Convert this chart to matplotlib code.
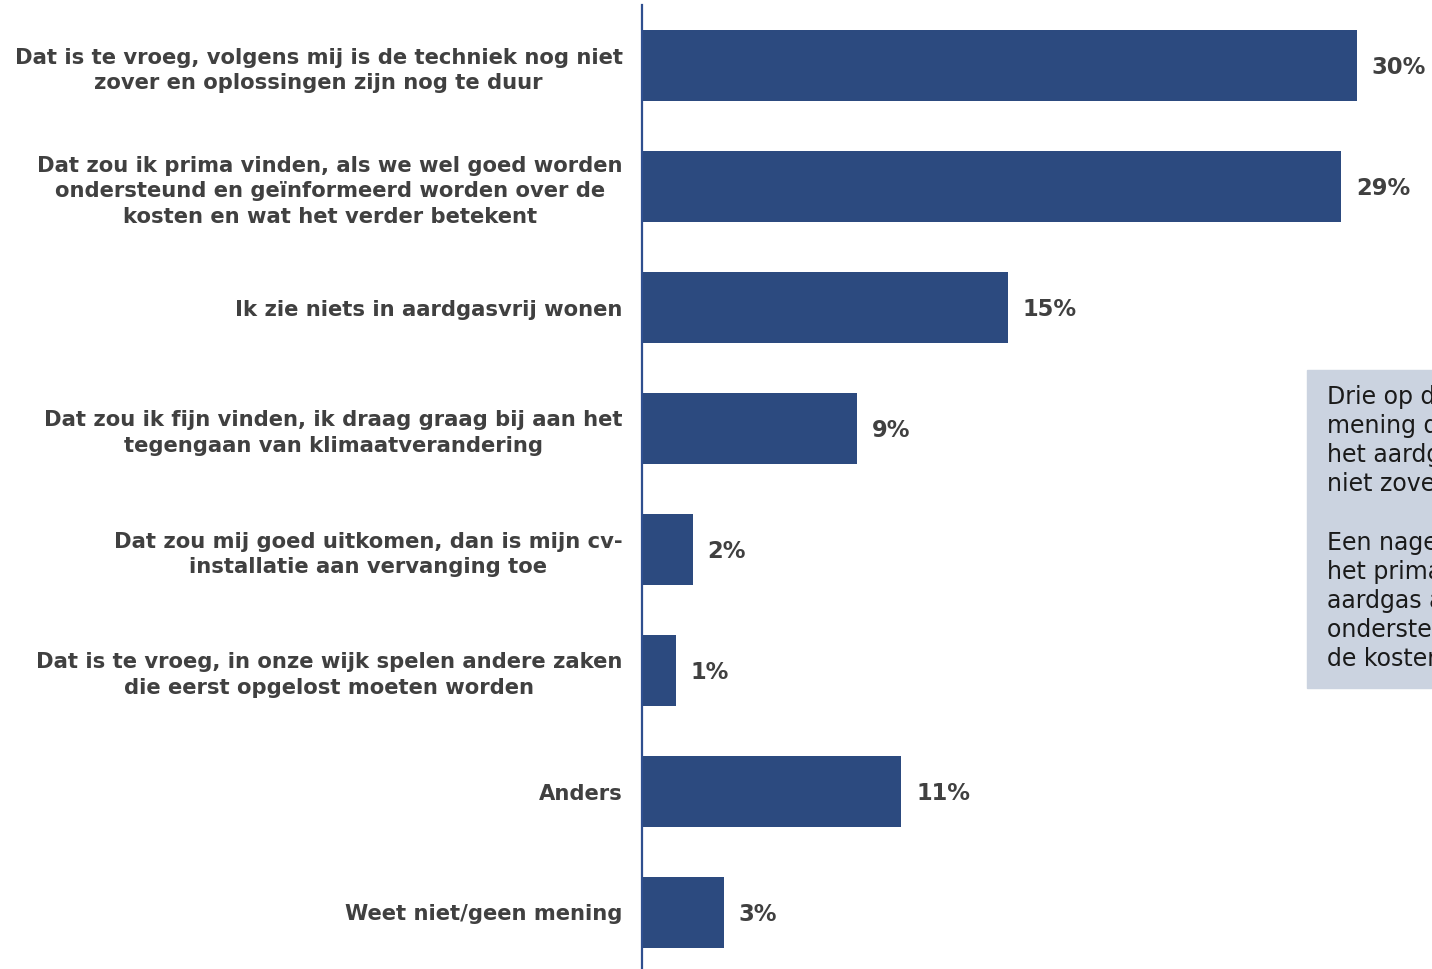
import matplotlib.pyplot as plt
from matplotlib.patches import Rectangle

# ------------------------------------
categories = [
    "Dat is te vroeg, volgens mij is de techniek nog niet\nzover en oplossingen zijn nog te duur",
    "Dat zou ik prima vinden, als we wel goed worden\nondersteund en geïnformeerd worden over de\nkosten en wat het verder betekent",
    "Ik zie niets in aardgasvrij wonen",
    "Dat zou ik fijn vinden, ik draag graag bij aan het\ntegengaan van klimaatverandering",
    "Dat zou mij goed uitkomen, dan is mijn cv-\ninstallatie aan vervanging toe",
    "Dat is te vroeg, in onze wijk spelen andere zaken\ndie eerst opgelost moeten worden",
    "Anders",
    "Weet niet/geen mening",
]
values = [29.9, 29.25, 15.3, 9.0, 2.13, 1.42, 10.85, 3.43]
value_labels = ["30%", "29%", "15%", "9%", "2%", "1%", "11%", "3%"]
note = ("Drie op de tien hebben de\n"
        "mening dat het te vroeg is om\n"
        "het aardgasvrij te maken, de techniek is\n"
        "niet zover\n"
        "\n"
        "Een nagenoeg even grote groep vindt\n"
        "het prima om van het\n"
        "aardgas af te gaan, mits goed\n"
        "ondersteund en geïnformeerd over\n"
        "de kosten")
# ------------------------------------

bar_color = "#2c4a7f"
text_color = "#404040"
W, H = 1432, 969

fig = plt.figure(figsize=(W / 100, H / 100), dpi=100)
ax = fig.add_axes([642 / W, -4 / H, (W - 642) / W, 968 / H])

y = list(range(len(categories)))
ax.barh(y, values, height=0.59, color=bar_color)
ax.set_ylim(len(categories) - 0.5, -0.5)
ax.set_xlim(0, (W - 642) / 23.9)

for i, (v, lab) in enumerate(zip(values, value_labels)):
    ax.text(v + 0.62, i + 0.02, lab, va="center", ha="left", fontsize=16.3,
            fontweight="bold", color=text_color)

ax.set_yticks(y)
ax.set_yticklabels(categories, fontsize=15.2, fontweight="bold",
                   color=text_color, multialignment="center", linespacing=1.37)
ax.tick_params(axis="y", length=0, pad=14)
ax.set_xticks([])
for s in ["top", "right", "bottom"]:
    ax.spines[s].set_visible(False)
ax.spines["left"].set_color("#2f4f8f")
ax.spines["left"].set_linewidth(1.6)

# note box on the right (cut off by the figure edge)
fig.patches.append(Rectangle((1307 / W, 1 - 688 / H), 200 / W, 318 / H,
                             transform=fig.transFigure, color="#cbd3e0", zorder=0))
fig.text(1327 / W, 1 - 385 / H, note, ha="left", va="top", fontsize=17,
         color="#1a1a1a", linespacing=1.27)

fig.savefig("out.png", dpi=100)
